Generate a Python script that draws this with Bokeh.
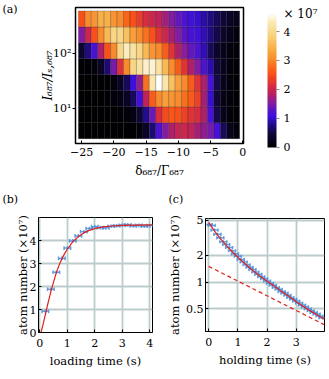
import numpy as np
from bokeh.plotting import figure
from bokeh.models import ColumnDataSource, LinearColorMapper, FixedTicker, Range1d
from bokeh.layouts import column, row
from bokeh.embed import file_html
from bokeh.resources import INLINE
from bokeh.core.properties import value

FONT = "DejaVu Serif"

# ---------------- (a) heat map data ----------------
detuning = [-25, -24, -23, -22, -21, -20, -19, -18, -17, -16, -15, -14, -13,
            -12, -11, -10, -9, -8, -7, -6, -5, -4, -3, -2, -1]
intensity = [4.0, 7.8, 15.2, 29.8, 58.0, 113.0, 221.0, 431.0]   # row centres
atoms_I4 = [0.02, 0.02, 0.02, 0.02, 0.02, 0.02, 0.02, 0.02, 0.02, 0.1, 0.3, 0.7, 1.2,
            1.5, 1.8, 1.95, 2.0, 1.9, 1.75, 1.6, 1.45, 1.15, 0.6, 0.25, 0.1]
atoms_I8 = [0.02, 0.02, 0.02, 0.02, 0.03, 0.03, 0.05, 0.08, 0.15, 0.4, 0.8, 1.4, 2.1,
            2.45, 2.55, 2.5, 2.35, 2.2, 2.1, 1.8, 1.15, 0.55, 0.2, 0.08, 0.05]
atoms_I15 = [0.02, 0.02, 0.02, 0.03, 0.05, 0.08, 0.15, 0.3, 0.6, 1.1, 1.9, 2.6, 3.0,
             3.2, 3.1, 3.0, 2.8, 2.6, 2.35, 1.75, 1.0, 0.45, 0.18, 0.08, 0.04]
atoms_I30 = [0.02, 0.02, 0.02, 0.02, 0.02, 0.1, 0.3, 0.6, 1.05, 1.6, 2.8, 4.2, 4.6,
             4.2, 3.6, 3.2, 3.0, 2.6, 2.2, 1.8, 1.15, 0.55, 0.25, 0.1, 0.05]
atoms_I58 = [0.05, 0.05, 0.1, 0.3, 0.7, 1.45, 2.15, 3.0, 3.9, 4.1, 4.35, 4.4, 4.1,
             3.5, 3.0, 2.6, 2.2, 1.8, 1.5, 1.2, 0.9, 0.5, 0.25, 0.1, 0.05]
atoms_I113 = [0.35, 0.75, 1.15, 1.8, 2.5, 3.0, 3.9, 4.3, 4.1, 3.9, 3.5, 3.1, 3.0,
              2.6, 2.2, 1.8, 1.55, 1.35, 1.2, 0.95, 0.6, 0.35, 0.2, 0.1, 0.08]
atoms_I221 = [1.5, 2.0, 2.5, 3.0, 3.5, 3.9, 3.9, 3.6, 3.2, 3.0, 2.8, 2.5, 2.2,
              2.0, 1.75, 1.5, 1.3, 1.15, 1.1, 0.95, 0.75, 0.55, 0.35, 0.2, 0.12]
atoms_I431 = [2.5, 3.0, 3.1, 3.4, 3.4, 3.1, 3.0, 2.7, 2.5, 2.3, 2.1, 2.0, 1.9,
              1.7, 1.5, 1.35, 1.2, 1.1, 1.0, 0.9, 0.75, 0.6, 0.45, 0.3, 0.2]
atoms_rows = [atoms_I4, atoms_I8, atoms_I15, atoms_I30, atoms_I58, atoms_I113, atoms_I221, atoms_I431]

cbar_max = 4.62
cbar_ticks = [0, 1, 2, 3, 4]
cbar_tick_labels = ["0", "1", "2", "3", "4"]
cbar_title = "\u00d7 10\u2077"
x_ticks_a = [-25, -20, -15, -10, -5, 0]
x_tick_labels_a = ["\u221225", "\u221220", "\u221215", "\u221210", "\u22125", "0"]
y_ticks_a = [10, 100]
y_tick_labels_a = ["10\u00b9", "10\u00b2"]
panel_letters = ["(a)", "(b)", "(c)"]

# ---------------- (b) loading ----------------
loading_time = [0.2, 0.4, 0.6, 0.8, 1.0, 1.2, 1.4, 1.6, 1.8, 2.0,
                2.2, 2.4, 2.6, 2.8, 3.0, 3.2, 3.4, 3.6, 3.8, 4.0]
loading_atoms = [0.92, 1.88, 2.62, 3.22, 3.67, 3.98, 4.2, 4.38, 4.52, 4.6,
                 4.56, 4.55, 4.62, 4.64, 4.66, 4.68, 4.63, 4.66, 4.62, 4.65]
loading_time_err = 0.12
loading_atoms_err = 0.08
fit_load_t = [0.04, 0.1, 0.2, 0.3, 0.4, 0.5, 0.6, 0.7, 0.8, 0.9, 1.0, 1.2, 1.4, 1.6,
              1.8, 2.0, 2.3, 2.6, 3.0, 3.5, 4.1]
fit_load_n = [0.0, 0.28, 0.78, 1.3, 1.78, 2.2, 2.6, 2.93, 3.2, 3.43, 3.62, 3.95, 4.17, 4.33,
              4.44, 4.52, 4.59, 4.63, 4.66, 4.67, 4.68]

# ---------------- (c) holding ----------------
holding_time = [0.0, 0.1, 0.2, 0.3, 0.4, 0.5, 0.6, 0.7, 0.8, 0.9,
                1.0, 1.1, 1.2, 1.3, 1.4, 1.5, 1.6, 1.7, 1.8, 1.9,
                2.0, 2.1, 2.2, 2.3, 2.4, 2.5, 2.6, 2.7, 2.8, 2.9,
                3.0, 3.1, 3.2, 3.3, 3.4, 3.5, 3.6, 3.7, 3.8, 3.9]
holding_atoms = [4.45, 4.35, 3.85, 3.45, 3.15, 2.85, 2.65, 2.45, 2.25, 2.08,
                 1.95, 1.80, 1.68, 1.57, 1.47, 1.38, 1.30, 1.22, 1.15, 1.09,
                 1.03, 0.97, 0.92, 0.87, 0.83, 0.78, 0.75, 0.71, 0.67, 0.64,
                 0.61, 0.58, 0.55, 0.525, 0.50, 0.475, 0.455, 0.435, 0.415, 0.395]
holding_time_err = 0.12
holding_rel_err = 0.04
fit_hold_t = [0.0, 0.1, 0.2, 0.3, 0.4, 0.5, 0.6, 0.8, 1.0, 1.2, 1.4, 1.6, 1.8, 2.0,
              2.25, 2.5, 2.75, 3.0, 3.25, 3.5, 3.75, 3.97]
fit_hold_n = [4.70, 4.19, 3.76, 3.40, 3.09, 2.83, 2.59, 2.21, 1.90, 1.66, 1.45, 1.28, 1.14, 1.02,
              0.90, 0.78, 0.69, 0.60, 0.53, 0.47, 0.42, 0.38]
onebody_t = [0.0, 3.97]
onebody_n = [1.5, 0.33]

# ---------------- colour map ----------------
stops = [(0.0, "#000000"), (0.5, "#120840"), (0.8, "#240c90"), (1.05, "#3c10dc"),
         (1.3, "#5a16c4"), (1.55, "#8a1e98"), (1.85, "#b82060"), (2.1, "#d82c40"),
         (2.5, "#f85018"), (2.8, "#f87020"), (3.05, "#f89030"), (3.4, "#f8b048"),
         (3.8, "#f8d078"), (4.25, "#fae8b0"), (4.62, "#ffffff")]


def h2rgb(h):
    return [int(h[i:i + 2], 16) for i in (1, 3, 5)]


spos = np.array([s[0] for s in stops]) / cbar_max
srgb = np.array([h2rgb(s[1]) for s in stops])
palette = []
for f in np.linspace(0, 1, 256):
    r, g, b = (int(round(np.interp(f, spos, srgb[:, k]))) for k in range(3))
    palette.append("#%02x%02x%02x" % (r, g, b))
mapper = LinearColorMapper(palette=palette, low=0, high=cbar_max)

TICK = "11px"
LAB = "11.5px"


def style_axes(p, tick_size=TICK, label_size=LAB):
    for ax in p.axis:
        ax.major_label_text_font = FONT
        ax.major_label_text_font_size = tick_size
        ax.major_label_text_color = "black"
        ax.axis_label_text_font = FONT
        ax.axis_label_text_font_size = label_size
        ax.axis_label_text_font_style = "normal"
        ax.axis_label_text_color = "black"
        ax.minor_tick_line_color = None
        ax.major_tick_line_color = "black"
        ax.axis_line_color = "black"


def blank_fig(w, h, xr, yr):
    f = figure(width=w, height=h, x_range=xr, y_range=yr, x_axis_location=None,
               y_axis_location=None, toolbar_location=None, output_backend="svg",
               min_border=0, frame_align=False)
    f.grid.visible = False
    f.outline_line_color = None
    return f


def letter(f, x, y, txt):
    f.text(x=[x], y=[y], text=[txt], text_baseline="top", text_align="left",
           text_font=value(FONT), text_font_size="11px", text_color="black")


TOP_H = 184
LET_H = 22
BOT_H = 173

# ---------------- panel letter (a) ----------------
fa = blank_fig(20, TOP_H, Range1d(0, 20), Range1d(TOP_H, 0))
letter(fa, 2, 2, panel_letters[0])

# ---------------- (a) heat map ----------------
log_c = np.log10(intensity)
mids = (log_c[:-1] + log_c[1:]) / 2
edges = 10 ** np.concatenate([[2 * log_c[0] - mids[0]], mids, [2 * log_c[-1] - mids[-1]]])
L, R, B, T, V = [], [], [], [], []
for i, vals in enumerate(atoms_rows):
    for j, d in enumerate(detuning):
        L.append(d - 0.5); R.append(d + 0.5)
        B.append(edges[i]); T.append(edges[i + 1]); V.append(vals[j])
hsrc = ColumnDataSource(dict(left=L, right=R, bottom=B, top=T, val=V))

hm = figure(width=235, height=TOP_H, x_range=Range1d(-25.95, 0.1), y_range=Range1d(2.34, 694),
            y_axis_type="log", toolbar_location=None, output_backend="svg", frame_align=False,
            min_border_left=55, min_border_right=12, min_border_top=7, min_border_bottom=41)
hm.quad(left="left", right="right", bottom="bottom", top="top", source=hsrc,
        fill_color={"field": "val", "transform": mapper}, line_color="black",
        line_alpha=0.3, line_width=0.7)
hm.grid.visible = False
hm.outline_line_color = "black"
hm.outline_line_width = 1.5
style_axes(hm, TICK, "12px")
hm.xaxis.ticker = FixedTicker(ticks=x_ticks_a)
hm.xaxis.major_label_overrides = dict(zip(x_ticks_a, x_tick_labels_a))
hm.xaxis.major_tick_in = 3
hm.xaxis.major_tick_out = 0
hm.xaxis.major_label_standoff = 4
hm.xaxis.axis_label = "\u03b4\u2086\u2088\u2087/\u0393\u2086\u2088\u2087"
hm.xaxis.axis_label_standoff = 5
hm.yaxis.ticker = FixedTicker(ticks=y_ticks_a)
hm.yaxis.major_label_overrides = dict(zip(y_ticks_a, y_tick_labels_a))
hm.yaxis.major_tick_in = 0
hm.yaxis.major_tick_out = 3
hm.yaxis.major_label_standoff = 1
hm.yaxis.axis_label = "I\u2086\u2088\u2087/I\u209b,\u2086\u2088\u2087"
hm.yaxis.axis_label_text_font_style = "italic"
hm.yaxis.axis_label_standoff = -5

# ---------------- colour bar (own figure, pixel-like data frame) ----------------
CB_W = 74
cbf = blank_fig(CB_W, TOP_H, Range1d(0, CB_W), Range1d(-1.276, 5.069))
BAR_X, BAR_W = 12, 9
cbf.image(image=[np.linspace(0, cbar_max, 256).reshape(256, 1)], x=BAR_X, y=0, dw=BAR_W,
          dh=cbar_max, color_mapper=mapper)
csrc = ColumnDataSource(dict(y=cbar_ticks, lab=cbar_tick_labels))
cbf.segment(x0=BAR_X + BAR_W, x1=BAR_X + BAR_W + 3, y0="y", y1="y", source=csrc,
            line_color="#888888", line_width=1)
cbf.text(x=BAR_X + BAR_W + 7, y="y", text="lab", source=csrc, text_baseline="middle",
         text_align="left", text_font=value(FONT), text_font_size=TICK, text_color="black")
cbf.text(x=[BAR_X + BAR_W + 7], y=[4.86], text=[cbar_title], text_baseline="top",
         text_align="left", text_font=value(FONT), text_font_size="12px", text_color="black")

# ---------------- letters (b), (c) strip ----------------
flet = blank_fig(329, LET_H, Range1d(0, 329), Range1d(LET_H, 0))
letter(flet, 2, 8, panel_letters[1])
letter(flet, 168, 8, panel_letters[2])

BLUE = "#4d8fd8"
RED = "#e0201c"
GRID = "#bccccc"


def errbars(p, t, n, te, ne):
    t = np.asarray(t, float); n = np.asarray(n, float); ne = np.asarray(ne, float)
    s = ColumnDataSource(dict(x0=t - te, x1=t + te, xc=t, y=n, y0=n - ne, y1=n + ne))
    kw = dict(source=s, line_color=BLUE, line_width=1.5, line_alpha=0.85)
    p.segment(x0="x0", y0="y", x1="x1", y1="y", **kw)
    p.segment(x0="x0", y0="y0", x1="x0", y1="y1", **kw)
    p.segment(x0="x1", y0="y0", x1="x1", y1="y1", **kw)
    p.segment(x0="xc", y0="y0", x1="xc", y1="y1", **kw)


def style_small(p):
    style_axes(p, TICK, LAB)
    p.outline_line_color = "black"
    p.outline_line_width = 1
    for g in p.grid:
        g.grid_line_color = GRID
        g.grid_line_width = 1.8
    for ax in p.axis:
        ax.major_tick_in = 3
        ax.major_tick_out = 0
    p.xaxis.major_label_standoff = 6
    p.xaxis.axis_label_standoff = 4


# ---------------- (b) figure ----------------
fb = figure(width=161, height=BOT_H, x_range=Range1d(-0.05, 4.1), y_range=Range1d(0, 5.0),
            toolbar_location=None, output_backend="svg", frame_align=False,
            min_border_left=38, min_border_right=9, min_border_top=11, min_border_bottom=47)
style_small(fb)
fb.xaxis.ticker = FixedTicker(ticks=[0, 1, 2, 3, 4])
fb.yaxis.ticker = FixedTicker(ticks=[0, 1, 2, 3, 4])
fb.yaxis.major_label_standoff = 2
fb.xaxis.axis_label = "loading time (s)"
fb.yaxis.axis_label = "atom number (\u00d710\u2077)"
fb.yaxis.axis_label_standoff = -3
errbars(fb, loading_time, loading_atoms, loading_time_err,
        [loading_atoms_err] * len(loading_atoms))
fb.line(fit_load_t, fit_load_n, line_color=RED, line_width=1.2)

# ---------------- (c) figure ----------------
fc = figure(width=168, height=BOT_H, x_range=Range1d(-0.11, 3.97), y_range=Range1d(0.277, 5.2),
            y_axis_type="log", toolbar_location=None, output_backend="svg", frame_align=False,
            min_border_left=44, min_border_right=5, min_border_top=12, min_border_bottom=48)
style_small(fc)
fc.xaxis.ticker = FixedTicker(ticks=[0, 1, 2, 3])
yt_c = [0.5, 1, 2, 5]
fc.yaxis.ticker = FixedTicker(ticks=yt_c)
fc.yaxis.major_label_overrides = {0.5: "0.5", 1: "1", 2: "2", 5: "5"}
fc.yaxis.major_label_standoff = 2
fc.xaxis.axis_label = "holding time (s)"
fc.yaxis.axis_label = "atom number (\u00d710\u2077)"
fc.yaxis.axis_label_standoff = 1
errbars(fc, holding_time, holding_atoms, holding_time_err,
        np.asarray(holding_atoms) * holding_rel_err)
fc.line(fit_hold_t, fit_hold_n, line_color=RED, line_width=1.2)
fc.line(onebody_t, onebody_n, line_color=RED, line_width=1.2, line_dash="4 3")

layout = column(row(fa, hm, cbf), flet, row(fb, fc))
open("out.html", "w").write(file_html(layout, INLINE))
